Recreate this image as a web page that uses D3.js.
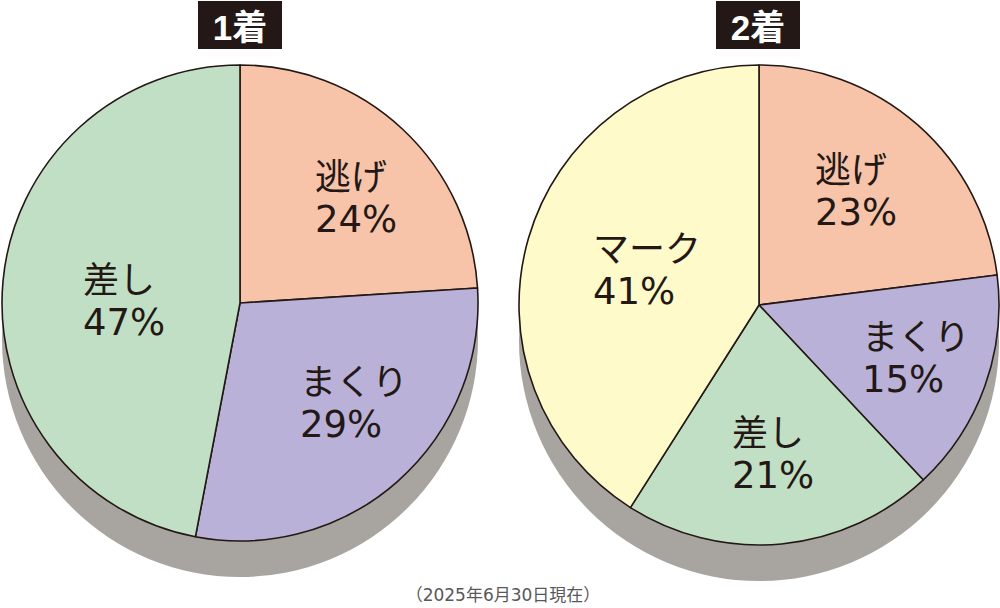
<!DOCTYPE html>
<html><head><meta charset="utf-8">
<script src="https://cdn.jsdelivr.net/npm/d3@7"></script>
<style>body{margin:0;background:#fff}svg{display:block}</style>
</head><body>
<svg id="c" width="1000" height="608"></svg>
<script>
// ---- data ----
const titles = ["1着", "2着"];
const cats1 = ["逃げ", "まくり", "差し"];
const vals1 = [24, 29, 47];
const cats2 = ["逃げ", "まくり", "差し", "マーク"];
const vals2 = [23, 15, 21, 41];
const note = "（2025年6月30日現在）";

// ---- style / layout ----
const colorOf = {"逃げ": "#f7c4a9", "まくり": "#b9b1d7", "差し": "#c1dfc4", "マーク": "#fffac9"};
const ink = "#231815";
// label anchors relative to pie centre: [left x, baseline of the % line]
const pies = [
  {cx: 240, cy: 303, r: 238, cats: cats1, vals: vals1, title: titles[0], tx: 240,
   lab: [[75, -71], [60, 134], [-157, 32]]},
  {cx: 759, cy: 305, r: 240, cats: cats2, vals: vals2, title: titles[1], tx: 758,
   lab: [[56, -80], [103, 87], [-27, 183], [-166, -1]]}
];
const shadowDy = 36;
const fontFam = "'DejaVu Sans','Noto Sans CJK JP',sans-serif";
const cjkFam = "'Noto Sans CJK JP',sans-serif";

const svg = d3.select("#c");
const pie = d3.pie().sort(null).value(d => d.v);

pies.forEach(p => {
  const g = svg.append("g").attr("transform", `translate(${p.cx},${p.cy})`);
  g.append("circle").attr("cx", 0).attr("cy", shadowDy).attr("r", p.r).attr("fill", "#a8a5a1");
  const data = p.cats.map((c, i) => ({c, v: p.vals[i], i}));
  const arcs = pie(data);
  const arc = d3.arc().innerRadius(0).outerRadius(p.r);
  g.selectAll("path.s").data(arcs).join("path").attr("class", "s")
    .attr("d", arc).attr("fill", d => colorOf[d.data.c])
    .attr("stroke", ink).attr("stroke-width", 1.6).attr("stroke-linejoin", "round");
  arcs.forEach((d, i) => {
    const [x, y] = p.lab[i];
    g.append("text").attr("font-family", cjkFam).attr("font-size", 36)
      .attr("fill", ink).attr("x", x).attr("y", y - 42).text(d.data.c);
    g.append("text").attr("font-family", fontFam).attr("font-size", 37)
      .attr("fill", ink).attr("x", x).attr("y", y).text(d.data.v + "%");
  });
  const tg = svg.append("g");
  tg.append("rect").attr("x", p.tx - 42).attr("y", 1).attr("width", 84).attr("height", 48)
    .attr("fill", ink);
  tg.append("text").attr("x", p.tx).attr("y", 40).attr("text-anchor", "middle")
    .attr("font-family", "'Liberation Sans','Noto Sans CJK JP',sans-serif").attr("font-weight", 700).attr("font-size", 35)
    .attr("fill", "#fff").text(p.title);
});

svg.append("text").attr("x", 503).attr("y", 601).attr("text-anchor", "middle")
  .attr("font-family", fontFam).attr("font-size", 17).attr("fill", "#595757").text(note);
</script>
</body></html>
